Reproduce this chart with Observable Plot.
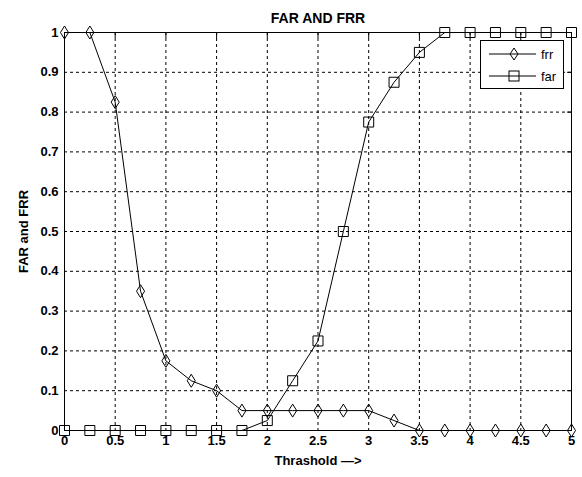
<!DOCTYPE html>
<html>
<head>
<meta charset="utf-8">
<script src="https://cdn.jsdelivr.net/npm/d3@7"></script>
<script src="https://cdn.jsdelivr.net/npm/@observablehq/plot@0.6"></script>
<style>
  body { margin: 0; background: #fff; }
  #wrap { position: relative; width: 582px; height: 477px; font-family: "Liberation Sans", Arial, sans-serif; }
  #legend { position: absolute; left: 480px; top: 40px; width: 84px; height: 49px; border: 1px solid #000; background: #fff; box-sizing: border-box; }
  #legend .row { position: absolute; left: 0; height: 20px; display: flex; align-items: center; font-size: 13px; }
  #legend svg { display: block; }
</style>
</head>
<body>
<div id="wrap"></div>
<script>
const thresholds = [0, 0.25, 0.5, 0.75, 1, 1.25, 1.5, 1.75, 2, 2.25, 2.5, 2.75, 3, 3.25, 3.5, 3.75, 4, 4.25, 4.5, 4.75, 5];
const frr = [1, 1, 0.825, 0.35, 0.175, 0.125, 0.1, 0.05, 0.05, 0.05, 0.05, 0.05, 0.05, 0.025, 0, 0, 0, 0, 0, 0, 0];
const far = [0, 0, 0, 0, 0, 0, 0, 0, 0.025, 0.125, 0.225, 0.5, 0.775, 0.875, 0.95, 1, 1, 1, 1, 1, 1];
const xTicks = [0, 0.5, 1, 1.5, 2, 2.5, 3, 3.5, 4, 4.5, 5];
const yTicks = [0, 0.1, 0.2, 0.3, 0.4, 0.5, 0.6, 0.7, 0.8, 0.9, 1];
const seriesNames = ["frr", "far"];
const title = "FAR AND FRR";
const xLabel = "Thrashold —>";
const yLabel = "FAR and FRR";

const frrData = thresholds.map((t, i) => ({t, v: frr[i]}));
const farData = thresholds.map((t, i) => ({t, v: far[i]}));

const tallDiamond = {
  draw(ctx, size) {
    const r = Math.sqrt(size / Math.PI);
    const w = r * 0.62;
    ctx.moveTo(0, -r); ctx.lineTo(w, 0); ctx.lineTo(0, r); ctx.lineTo(-w, 0); ctx.closePath();
  }
};
const box = {
  draw(ctx, size) {
    const r = Math.sqrt(size / Math.PI);
    ctx.rect(-r, -r, 2 * r, 2 * r);
  }
};

const grid = {stroke: "#000", strokeOpacity: 1, strokeDasharray: "3,3", strokeWidth: 1};
const fmt = d => String(d);

const chart = Plot.plot({
  width: 582,
  height: 477,
  marginLeft: 64,
  marginRight: 11,
  marginTop: 32,
  marginBottom: 47,
  style: {fontFamily: "Liberation Sans, Arial, sans-serif", fontSize: "13px", fontWeight: "bold", color: "#000", background: "#fff"},
  x: {domain: [0, 5]},
  y: {domain: [0, 1]},
  marks: [
    Plot.gridX(xTicks, grid),
    Plot.gridY(yTicks, grid),
    Plot.axisX(xTicks, {tickSize: 0, tickPadding: 5, tickFormat: fmt, label: xLabel, labelAnchor: "center", labelArrow: "none", labelOffset: 34, fontWeight: "bold"}),
    Plot.axisY(yTicks, {tickSize: 0, tickPadding: 6, tickFormat: fmt, label: yLabel, labelAnchor: "center", labelArrow: "none", labelOffset: 46, fontWeight: "bold"}),
    Plot.axisY(yTicks, {anchor: "right", tickSize: -5, text: null, label: null}),
    Plot.axisX(xTicks, {anchor: "top", tickSize: -5, text: null, label: null}),
    Plot.frame({stroke: "#000"}),
    Plot.line(frrData, {x: "t", y: "v", stroke: "#000", strokeWidth: 1}),
    Plot.line(farData, {x: "t", y: "v", stroke: "#000", strokeWidth: 1}),
    Plot.dot(frrData, {x: "t", y: "v", r: 6.5, symbol: tallDiamond, stroke: "#000", fill: "none", strokeWidth: 1}),
    Plot.dot(farData, {x: "t", y: "v", r: 5, symbol: box, stroke: "#000", fill: "none", strokeWidth: 1}),
    Plot.text([title], {frameAnchor: "top", dy: -19, fontSize: 14, fontWeight: "bold"})
  ]
});

const wrap = document.getElementById("wrap");
wrap.appendChild(chart);

const legend = document.createElement("div");
legend.id = "legend";
const symbols = [
  '<path d="M33,4 L37,10 L33,16 L29,10 Z" fill="none" stroke="#000"/>',
  '<rect x="28" y="5" width="10" height="10" fill="none" stroke="#000"/>'
];
seriesNames.forEach((name, i) => {
  const row = document.createElement("div");
  row.className = "row";
  row.style.top = (3 + i * 22) + "px";
  row.innerHTML = '<svg width="60" height="20"><line x1="8" y1="10" x2="55" y2="10" stroke="#000"/>' + symbols[i] + '</svg><span>' + name + '</span>';
  legend.appendChild(row);
});
wrap.appendChild(legend);
</script>
</body>
</html>
